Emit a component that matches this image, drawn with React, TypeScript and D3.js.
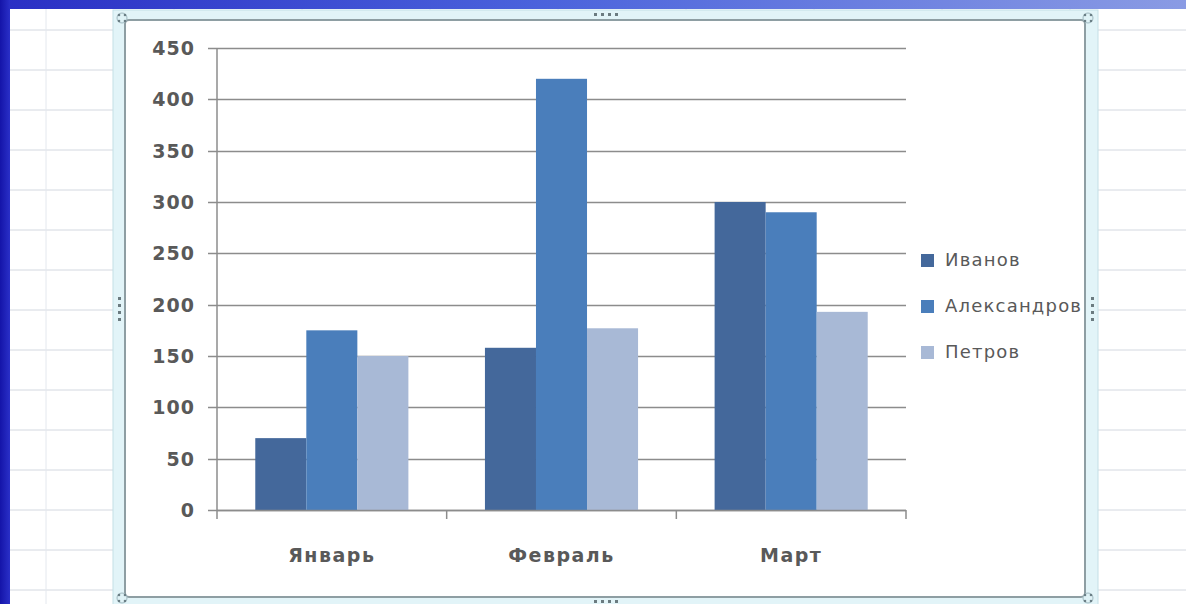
import React from "react";
import * as d3 from "d3";

const categories = ["Январь", "Февраль", "Март"];
const seriesNames = ["Иванов", "Александров", "Петров"];
const ivanov = [70, 158, 300];
const alexandrov = [175, 420, 290];
const petrov = [150, 177, 193];
const yTicks = [0, 50, 100, 150, 200, 250, 300, 350, 400, 450];
const colors = ["#44689b", "#4a7ebb", "#a8b9d6"];

const W = 1186;
const H = 604;

export default function App() {
  const values = [ivanov, alexandrov, petrov];
  const x0 = d3.scaleBand<string>().domain(categories).range([217, 906]).paddingInner(0).paddingOuter(0);
  const bw = x0.bandwidth();
  const groupPad = bw * (1.5 / 4.5) / 2; // gap width 150%
  const x1 = d3.scaleBand<string>().domain(seriesNames).range([groupPad, bw - groupPad]).padding(0);
  const y = d3.scaleLinear().domain([0, 450]).range([510, 48]);

  const hLines = d3.range(30, H, 40);
  const vLines = d3.range(46, W, 128);
  const txt = "#595959";
  const font = "'DejaVu Sans', Verdana, sans-serif";

  return (
    <svg width={W} height={H} style={{ position: "absolute", left: 0, top: 0, display: "block" }}>
      <defs>
        <linearGradient id="topg" x1="0" x2="1" y1="0" y2="0">
          <stop offset="0" stopColor="#2a2fc4" />
          <stop offset="0.45" stopColor="#4a62dc" />
          <stop offset="1" stopColor="#8a9be4" />
        </linearGradient>
        <linearGradient id="leftg" x1="0" x2="1" y1="0" y2="0">
          <stop offset="0" stopColor="#1414a8" />
          <stop offset="1" stopColor="#2a30c8" />
        </linearGradient>
      </defs>
      <rect x={0} y={0} width={W} height={H} fill="#ffffff" />
      {/* spreadsheet grid */}
      {hLines.map((v) => (
        <line key={"h" + v} x1={10} x2={W} y1={v} y2={v} stroke="#d3d8e0" strokeWidth={1} />
      ))}
      {vLines.map((v) => (
        <line key={"v" + v} x1={v} x2={v} y1={9} y2={H} stroke="#e4e8ee" strokeWidth={1} />
      ))}
      {/* blue background bands */}
      <rect x={0} y={0} width={W} height={9} fill="url(#topg)" />
      <rect x={0} y={0} width={10} height={H} fill="url(#leftg)" />
      {/* chart frame */}
      <rect x={113} y={10} width={985} height={600} fill="#e2f4f8" stroke="#c4dfe6" strokeWidth={1} />
      <rect x={125} y={20} width={960} height={577} fill="#ffffff" stroke="#8e9ea3" strokeWidth={2} rx={4} />
      {/* handles */}
      {[[122, 18], [1088, 18], [122, 598], [1088, 598]].map(([cx, cy], i) => (
        <g key={"c" + i}>
          <circle cx={cx} cy={cy} r={5} fill="#dff2f6" stroke="#9fb8bf" strokeWidth={1} />
          <circle cx={cx - 3} cy={cy - 3} r={1.3} fill="#6b7f86" />
          <circle cx={cx + 3} cy={cy - 3} r={1.3} fill="#6b7f86" />
          <circle cx={cx - 3} cy={cy + 3} r={1.3} fill="#6b7f86" />
          <circle cx={cx + 3} cy={cy + 3} r={1.3} fill="#6b7f86" />
        </g>
      ))}
      {[0, 1, 2, 3].map((i) => (
        <g key={"hd" + i}>
          <rect x={594 + i * 7} y={13} width={3} height={3} fill="#6b7b80" />
          <rect x={594 + i * 7} y={600} width={3} height={3} fill="#6b7b80" />
          <rect x={118} y={297 + i * 7} width={3} height={3} fill="#6b7b80" />
          <rect x={1091} y={297 + i * 7} width={3} height={3} fill="#6b7b80" />
        </g>
      ))}
      {/* gridlines & y ticks */}
      {yTicks.map((t) => (
        <g key={"t" + t}>
          <line x1={208} x2={906} y1={Math.round(y(t)) + 0.5} y2={Math.round(y(t)) + 0.5} stroke="#8c8c8c" strokeWidth={1.5} />
          <text x={195} y={y(t)} dy="0.36em" textAnchor="end" fontFamily={font} fontWeight="bold" fontSize={19} letterSpacing={1} fill={txt}>
            {t}
          </text>
        </g>
      ))}
      {/* bars */}
      {categories.map((c, ci) => (
        <g key={c} transform={`translate(${x0(c)},0)`}>
          {seriesNames.map((s, si) => (
            <rect key={s} x={x1(s)} y={y(values[si][ci])} width={x1.bandwidth()} height={y(0) - y(values[si][ci])} fill={colors[si]} />
          ))}
        </g>
      ))}
      {/* axes */}
      <line x1={217} x2={217} y1={48} y2={511} stroke="#8c8c8c" strokeWidth={1.5} />
      <line x1={217} x2={906} y1={510.5} y2={510.5} stroke="#8c8c8c" strokeWidth={1.5} />
      {[...categories.map((c) => x0(c) as number), 906].map((v, i) => (
        <line key={"ct" + i} x1={v} x2={v} y1={510} y2={519} stroke="#8c8c8c" strokeWidth={1.5} />
      ))}
      {categories.map((c) => (
        <text key={"cl" + c} x={(x0(c) as number) + bw / 2} y={555} dy="0.36em" textAnchor="middle" fontFamily={font} fontWeight="bold" fontSize={19} letterSpacing={1.5} fill={txt}>
          {c}
        </text>
      ))}
      {/* legend */}
      {seriesNames.map((s, i) => (
        <g key={"lg" + s} transform={`translate(921,${260 + i * 46})`}>
          <rect x={0} y={-6} width={13} height={13} fill={colors[i]} />
          <text x={24} y={0} dy="0.36em" fontFamily={font} fontSize={18} letterSpacing={1.2} fill={txt}>
            {s}
          </text>
        </g>
      ))}
    </svg>
  );
}
